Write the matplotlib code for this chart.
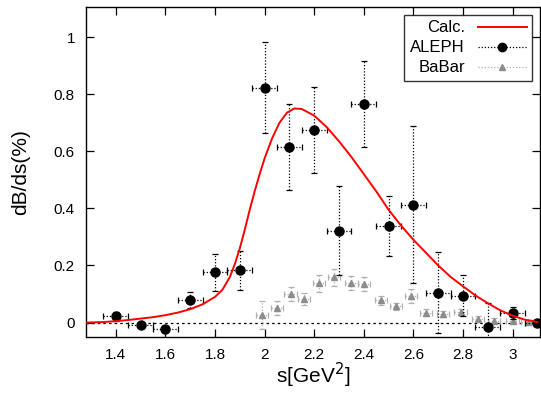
import matplotlib
matplotlib.use("Agg")
import matplotlib.pyplot as plt
from matplotlib.lines import Line2D

plt.rcParams['font.family'] = ['Liberation Sans', 'DejaVu Sans']

# Calculated curve
calc_s = [1.28, 1.35, 1.40, 1.45, 1.50, 1.55, 1.60, 1.65, 1.70, 1.75, 1.80, 1.83,
          1.86, 1.88, 1.90, 1.92, 1.94, 1.96, 1.98, 2.00, 2.03, 2.06, 2.09, 2.12,
          2.15, 2.20, 2.25, 2.30, 2.35, 2.40, 2.45, 2.50, 2.55, 2.60, 2.65, 2.70,
          2.75, 2.80, 2.85, 2.90, 2.95, 3.00, 3.05, 3.10]
calc_y = [0.0, 0.002, 0.005, 0.009, 0.014, 0.019, 0.026, 0.035, 0.047, 0.064, 0.09, 0.115,
          0.16, 0.205, 0.26, 0.325, 0.395, 0.46, 0.52, 0.575, 0.645, 0.70, 0.735, 0.75,
          0.748, 0.725, 0.685, 0.635, 0.58, 0.52, 0.46, 0.395, 0.34, 0.29, 0.245, 0.20,
          0.16, 0.127, 0.095, 0.068, 0.043, 0.024, 0.01, 0.002]

# ALEPH
aleph_s = [1.4, 1.5, 1.6, 1.7, 1.8, 1.9, 2.0, 2.1, 2.2, 2.3, 2.4, 2.5, 2.6, 2.7, 2.8, 2.9, 3.0, 3.1]
aleph_y = [0.022, -0.01, -0.021, 0.078, 0.176, 0.183, 0.823, 0.615, 0.675, 0.322, 0.766,
           0.338, 0.413, 0.104, 0.094, -0.014, 0.033, 0.0]
aleph_dy = [0.015, 0.01, 0.01, 0.028, 0.065, 0.068, 0.16, 0.15, 0.15, 0.157, 0.15,
            0.105, 0.275, 0.142, 0.071, 0.084, 0.02, 0.005]
aleph_dx = 0.05

# BaBar
babar_s = [1.99, 2.05, 2.105, 2.16, 2.22, 2.28, 2.35, 2.40, 2.47, 2.53, 2.59, 2.65,
           2.72, 2.79, 2.86, 2.925, 3.0, 3.06, 3.1]
babar_y = [0.026, 0.051, 0.10, 0.083, 0.137, 0.158, 0.139, 0.135, 0.078, 0.057, 0.094,
           0.034, 0.031, 0.036, 0.014, 0.007, 0.005, 0.003, 0.001]
babar_dy = [0.05, 0.025, 0.024, 0.02, 0.03, 0.03, 0.025, 0.025, 0.015, 0.012, 0.025,
            0.012, 0.01, 0.012, 0.01, 0.008, 0.006, 0.005, 0.004]
babar_dx = 0.025

fig = plt.figure(figsize=(5.41, 3.94), dpi=100)
ax = fig.add_axes([0.159, 0.145, 0.839, 0.837])

dots = (0, (1, 1.5))

ax.axhline(0, color='black', lw=0.9, ls=(0, (2, 2.5)), zorder=1)

eb = ax.errorbar(babar_s, babar_y, yerr=babar_dy, xerr=babar_dx, fmt='^',
                 color='#8c8c8c', ecolor='#b0b0b0', ms=5, elinewidth=0.9,
                 capsize=2, capthick=0.9, zorder=2)
for c in eb[2]:
    c.set_linestyle(dots)

eb = ax.errorbar(aleph_s, aleph_y, yerr=aleph_dy, xerr=aleph_dx, fmt='o',
                 color='black', ecolor='black', ms=6.5, elinewidth=0.9,
                 capsize=2, capthick=0.9, zorder=3)
for c in eb[2]:
    c.set_linestyle(dots)

ax.plot(calc_s, calc_y, color='red', lw=1.4, zorder=4)

ax.set_xlim(1.28, 3.11)
ax.set_ylim(-0.05, 1.105)
ax.set_xticks([1.4, 1.6, 1.8, 2.0, 2.2, 2.4, 2.6, 2.8, 3.0])
ax.set_xticklabels(['1.4', '1.6', '1.8', '2', '2.2', '2.4', '2.6', '2.8', '3'])
ax.set_yticks([0, 0.2, 0.4, 0.6, 0.8, 1.0])
ax.set_yticklabels(['0', '0.2', '0.4', '0.6', '0.8', '1'])
ax.tick_params(direction='in', top=True, right=True, length=6, width=0.9, labelsize=11)
ax.tick_params(axis='x', pad=8)
ax.tick_params(axis='y', pad=8)
for sp in ax.spines.values():
    sp.set_linewidth(1.0)

ax.set_xlabel('s[GeV$^2$]', fontsize=15, labelpad=-1)
ax.set_ylabel('dB/ds(%)', fontsize=15, labelpad=17)

handles = [
    Line2D([], [], color='red', lw=1.4),
    Line2D([], [], color='black', ls=dots, lw=0.9, marker='o', ms=6),
    Line2D([], [], color='#b0b0b0', ls=dots, lw=0.9, marker='^', ms=5,
           markerfacecolor='#8c8c8c', markeredgecolor='#8c8c8c'),
]
leg = ax.legend(handles, ['Calc.', 'ALEPH', 'BaBar'], loc='upper right',
                markerfirst=False, fontsize=12, frameon=True, fancybox=False,
                edgecolor='black', handlelength=2.9, borderpad=0.35,
                labelspacing=0.3, handletextpad=0.8, borderaxespad=0.45)
leg.get_frame().set_linewidth(1.0)

fig.savefig('out.png', dpi=100)
